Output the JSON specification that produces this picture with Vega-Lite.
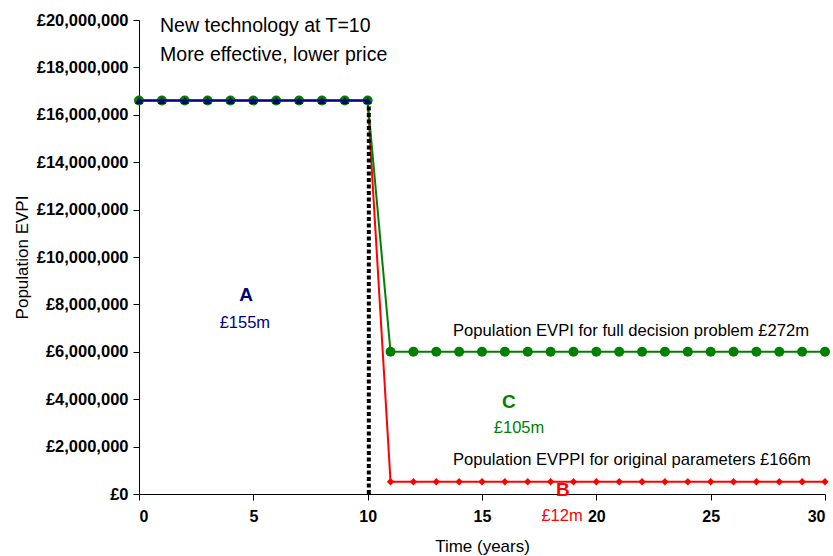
{
  "$schema": "https://vega.github.io/schema/vega-lite/v6.json",
  "width": 686,
  "height": 474,
  "autosize": "none",
  "padding": {"left": 139, "top": 20, "right": 8, "bottom": 62},
  "background": "white",
  "config": {
    "view": {"stroke": null},
    "font": "Liberation Sans, Arial, sans-serif"
  },
  "datasets": {
    "evpi_blue": [
      {"t": 0, "v": 16600000}, {"t": 1, "v": 16600000}, {"t": 2, "v": 16600000},
      {"t": 3, "v": 16600000}, {"t": 4, "v": 16600000}, {"t": 5, "v": 16600000},
      {"t": 6, "v": 16600000}, {"t": 7, "v": 16600000}, {"t": 8, "v": 16600000},
      {"t": 9, "v": 16600000}, {"t": 10, "v": 16600000}
    ],
    "evpi_full": [
      {"t": 0, "v": 16600000}, {"t": 1, "v": 16600000}, {"t": 2, "v": 16600000},
      {"t": 3, "v": 16600000}, {"t": 4, "v": 16600000}, {"t": 5, "v": 16600000},
      {"t": 6, "v": 16600000}, {"t": 7, "v": 16600000}, {"t": 8, "v": 16600000},
      {"t": 9, "v": 16600000}, {"t": 10, "v": 16600000},
      {"t": 11, "v": 6000000}, {"t": 12, "v": 6000000}, {"t": 13, "v": 6000000},
      {"t": 14, "v": 6000000}, {"t": 15, "v": 6000000}, {"t": 16, "v": 6000000},
      {"t": 17, "v": 6000000}, {"t": 18, "v": 6000000}, {"t": 19, "v": 6000000},
      {"t": 20, "v": 6000000}, {"t": 21, "v": 6000000}, {"t": 22, "v": 6000000},
      {"t": 23, "v": 6000000}, {"t": 24, "v": 6000000}, {"t": 25, "v": 6000000},
      {"t": 26, "v": 6000000}, {"t": 27, "v": 6000000}, {"t": 28, "v": 6000000},
      {"t": 29, "v": 6000000}, {"t": 30, "v": 6000000}
    ],
    "evppi_orig": [
      {"t": 0, "v": 16600000}, {"t": 1, "v": 16600000}, {"t": 2, "v": 16600000},
      {"t": 3, "v": 16600000}, {"t": 4, "v": 16600000}, {"t": 5, "v": 16600000},
      {"t": 6, "v": 16600000}, {"t": 7, "v": 16600000}, {"t": 8, "v": 16600000},
      {"t": 9, "v": 16600000}, {"t": 10, "v": 16600000},
      {"t": 11, "v": 520000}, {"t": 12, "v": 520000}, {"t": 13, "v": 520000},
      {"t": 14, "v": 520000}, {"t": 15, "v": 520000}, {"t": 16, "v": 520000},
      {"t": 17, "v": 520000}, {"t": 18, "v": 520000}, {"t": 19, "v": 520000},
      {"t": 20, "v": 520000}, {"t": 21, "v": 520000}, {"t": 22, "v": 520000},
      {"t": 23, "v": 520000}, {"t": 24, "v": 520000}, {"t": 25, "v": 520000},
      {"t": 26, "v": 520000}, {"t": 27, "v": 520000}, {"t": 28, "v": 520000},
      {"t": 29, "v": 520000}, {"t": 30, "v": 520000}
    ],
    "switch_time": [
      {"t": 10.05, "v": 0}, {"t": 10.05, "v": 16400000}
    ],
    "headline": [
      {"t": 0.92, "v": 19750000, "text": "New technology at T=10"},
      {"t": 0.92, "v": 18520000, "text": "More effective, lower price"}
    ],
    "series_notes": [
      {"t": 13.73, "v": 6880000, "text": "Population EVPI for full decision problem £272m"},
      {"t": 13.73, "v": 1430000, "text": "Population EVPPI for original parameters £166m"}
    ],
    "area_letters": [
      {"t": 4.68, "v": 8400000, "text": "A", "area": "A"},
      {"t": 16.18, "v": 3880000, "text": "C", "area": "C"},
      {"t": 18.54, "v": 170000, "text": "B", "area": "B"}
    ],
    "area_values": [
      {"t": 4.63, "v": 7220000, "text": "£155m", "area": "A"},
      {"t": 16.62, "v": 2780000, "text": "£105m", "area": "C"},
      {"t": 18.5, "v": -930000, "text": "£12m", "area": "B"}
    ]
  },
  "encoding": {
    "x": {
      "field": "t", "type": "quantitative",
      "scale": {"domain": [0, 30], "nice": false, "zero": false},
      "axis": {
        "title": "Time (years)", "values": [0, 5, 10, 15, 20, 25, 30],
        "grid": false, "domainColor": "black", "tickColor": "black", "tickSize": 6,
        "labelFontSize": 16, "labelFontWeight": "bold", "labelColor": "black", "labelPadding": 8,
        "titleFontSize": 17, "titleFontWeight": "normal", "titleColor": "black", "titlePadding": 14
      }
    },
    "y": {
      "field": "v", "type": "quantitative",
      "scale": {"domain": [0, 20000000], "nice": false},
      "axis": {
        "title": "Population EVPI", "values": [0, 2000000, 4000000, 6000000, 8000000, 10000000, 12000000, 14000000, 16000000, 18000000, 20000000],
        "labelExpr": "'£' + format(datum.value, ',')",
        "grid": false, "domainColor": "black", "tickColor": "black", "tickSize": 6,
        "labelFontSize": 16.5, "labelFontWeight": "bold", "labelColor": "black", "labelPadding": 5,
        "titleFontSize": 17, "titleFontWeight": "normal", "titleColor": "black", "titlePadding": 5
      }
    }
  },
  "layer": [
    {"data": {"name": "evppi_orig"}, "mark": {"type": "line", "color": "#FF0000", "strokeWidth": 2}},
    {"data": {"name": "evppi_orig"}, "mark": {"type": "point", "shape": "diamond", "filled": true, "color": "#FF0000", "size": 55, "opacity": 1}},
    {"data": {"name": "evpi_full"}, "mark": {"type": "line", "color": "#008000", "strokeWidth": 2}},
    {"data": {"name": "evpi_full"}, "mark": {"type": "point", "shape": "circle", "filled": true, "color": "#008000", "size": 100, "opacity": 1}},
    {"data": {"name": "evpi_blue"}, "mark": {"type": "line", "color": "#000080", "strokeWidth": 2}},
    {"data": {"name": "evpi_blue"}, "mark": {"type": "point", "shape": "triangle-up", "filled": true, "color": "#000080", "size": 65, "opacity": 1}},
    {"data": {"name": "switch_time"}, "mark": {"type": "rule", "color": "black", "strokeWidth": 4, "strokeDash": [4, 2.5]},
     "encoding": {"y": {"field": "v", "type": "quantitative", "aggregate": "min"}, "y2": {"field": "v", "aggregate": "max"}}},
    {"data": {"name": "headline"}, "mark": {"type": "text", "align": "left", "baseline": "middle", "fontSize": 19.5, "color": "black"},
     "encoding": {"text": {"field": "text"}}},
    {"data": {"name": "series_notes"}, "mark": {"type": "text", "align": "left", "baseline": "middle", "fontSize": 16.6, "color": "black"},
     "encoding": {"text": {"field": "text"}}},
    {"data": {"name": "area_letters"}, "mark": {"type": "text", "align": "center", "baseline": "middle", "fontSize": 19, "fontWeight": "bold"},
     "encoding": {"text": {"field": "text"},
       "color": {"field": "area", "type": "nominal", "scale": {"domain": ["A", "B", "C"], "range": ["#000080", "#FF0000", "#008000"]}, "legend": null}}},
    {"data": {"name": "area_values"}, "mark": {"type": "text", "align": "center", "baseline": "middle", "fontSize": 16.5},
     "encoding": {"text": {"field": "text"},
       "color": {"field": "area", "type": "nominal", "scale": {"domain": ["A", "B", "C"], "range": ["#000080", "#FF0000", "#008000"]}, "legend": null}}}
  ]
}
